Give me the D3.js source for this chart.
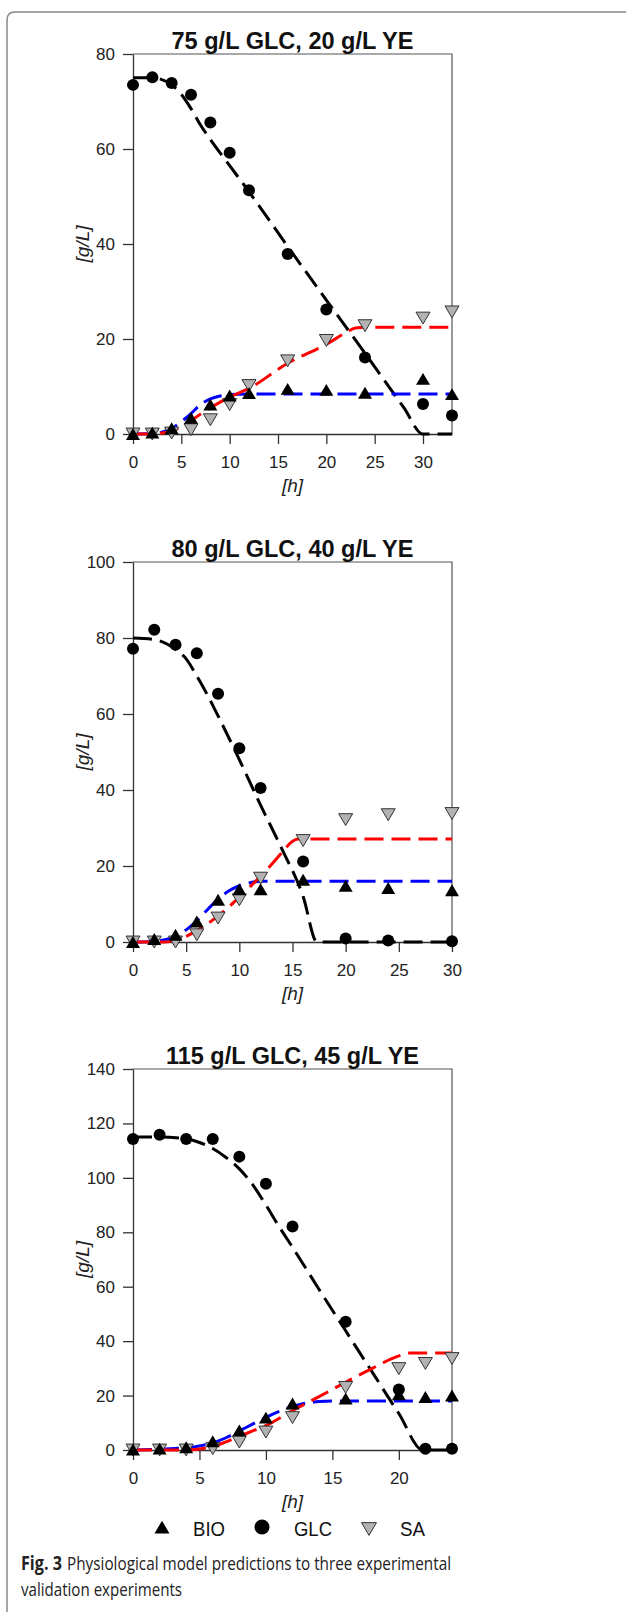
<!DOCTYPE html>
<meta charset="utf-8">
<style>
    body { margin: 0; background: #fff; }
    .axis path, .axis line { stroke: #333; stroke-width: 1.3px; }
    .axis text { font: 17px "Liberation Sans", Arial, sans-serif; fill: #222; }
    .frame { stroke: #555; stroke-width: 1.2px; fill: none; }
    .title { font: bold 24px "Liberation Sans", Arial, sans-serif; fill: #111; }
    .lab { font: italic 19px "Liberation Sans", Arial, sans-serif; fill: #222; }
    .legend text { font: 21px "Liberation Sans", Arial, sans-serif; fill: #111; }
    .caption { font: 19px "Open Sans", "Noto Sans", sans-serif; fill: #222; }
    .caption.bold { font-weight: bold; }
</style>
<svg width="626" height="1612"></svg>
<script src="https://d3js.org/d3.v7.min.js"></script>
<script>

// panel 1: 75 g/L GLC, 20 g/L YE
var times1 = [0, 2, 4, 6, 8, 10, 12, 16, 20, 24, 30, 33];
var glc1 = [73.5, 75.1, 73.9, 71.4, 65.6, 59.2, 51.3, 37.9, 26.2, 16.1, 6.3, 3.9];
var bio1 = [0, 0.3, 1.2, 3.4, 6.2, 8.1, 8.6, 9.5, 9.3, 8.7, 11.6, 8.4];
var sa1 = [0, 0, 0.2, 0.9, 3.0, 6.2, 10.2, 15.4, 19.7, 22.8, 24.4, 25.7];
var glcModel1 = [[0,75],[2,75],[4,73.5],[5,71.5],[6,68.5],[7,65],[8,62],[10,56.5],[12,51],[16,39.5],[20,28.2],[24,17],[28,5.6],[30,0],[33,0]];
var bioModel1 = [[0,0],[2,0.1],[3,0.4],[4,1.2],[5,2.6],[6,4.3],[7,6.2],[8,7.4],[9,8],[10,8.3],[12,8.4],[33,8.4]];
var saModel1 = [[0,0],[2,0],[3,0.2],[4,0.6],[5,1.5],[6,2.8],[7,4.2],[8,5.5],[10,7.8],[12,9.6],[16,14.9],[20,18.9],[22,21.3],[23,22.3],[24,22.5],[33,22.5]];

// panel 2: 80 g/L GLC, 40 g/L YE
var times2 = [0, 2, 4, 6, 8, 10, 12, 16, 20, 24, 30];
var glc2 = [77.2, 82.2, 78.2, 76.0, 65.3, 51.0, 40.5, 21.2, 0.9, 0.4, 0.2];
var bio2 = [0, 0.8, 1.9, 5.4, 11.1, 13.9, 13.9, 16.4, 14.8, 14.2, 13.6];
var sa2 = [0, 0, 0, 1.9, 6.3, 11.1, 16.8, 26.7, 32.2, 33.5, 33.8];
var glcModel2 = [[0,80],[2,79.6],[4,77],[5,74.5],[6,70],[7,65],[8,59.5],[10,48],[12,36],[14,24.5],[16,12],[17.3,0],[30,0]];
var bioModel2 = [[0,0],[2,0.2],[3,0.6],[4,1.5],[5,3.2],[6,5.6],[7,8.5],[8,11.3],[9,13.4],[10,14.8],[11,15.6],[12,16],[30,16]];
var saModel2 = [[0,0],[3,0],[4,0.5],[5,1.5],[6,3],[7,4.8],[8,6.8],[9,9.2],[10,11.8],[11,14.5],[12,17.3],[13,20.3],[14,23.5],[15,26.5],[15.5,27.1],[30,27.1]];

// panel 3: 115 g/L GLC, 45 g/L YE
var times3 = [0, 2, 4, 6, 8, 10, 12, 16, 20, 22, 24];
var glc3 = [114.3, 115.8, 114.3, 114.3, 107.8, 97.8, 82.1, 47.1, 22.2, 0.5, 0.5];
var bio3 = [0.2, 0.5, 1.0, 3.2, 7.2, 11.9, 17.1, 18.9, 20.5, 19.5, 20.0];
var sa3 = [0, 0, 0, 0.5, 2.9, 6.6, 11.9, 23.0, 29.9, 31.8, 33.6];
var glcModel3 = [[0,115],[2,115],[4,114.3],[5,113],[6,110.8],[7,107.5],[8,103.3],[9,97.5],[10,90],[11,82],[12,74.5],[14,59],[16,43.8],[18,28.6],[20,13.4],[21.8,0],[24,0]];
var bioModel3 = [[0,0],[4,0.8],[5,1.5],[6,2.6],[7,4.5],[8,7],[9,9.5],[10,12],[11,14.2],[12,16],[13,17.2],[14,17.8],[15,18],[24,18]];
var saModel3 = [[0,0],[4,0],[5,0.4],[6,1.3],[7,3],[8,5],[9,7],[10,9],[12,14.5],[14,19.6],[16,24.9],[18,30],[20,34.6],[20.8,35.6],[24,35.6]];

var titles = ["75 g/L GLC, 20 g/L YE", "80 g/L GLC, 40 g/L YE", "115 g/L GLC, 45 g/L YE"];
var xMax = [33, 30, 24];
var yMax = [80, 100, 140];
var xTicks = [[0,5,10,15,20,25,30], [0,5,10,15,20,25,30], [0,5,10,15,20]];
var legendNames = ["BIO", "GLC", "SA"];

var panels = [
    {times: times1, glc: glc1, bio: bio1, sa: sa1, mg: glcModel1, mb: bioModel1, ms: saModel1, top: 54, bottom: 434, tw: 242},
    {times: times2, glc: glc2, bio: bio2, sa: sa2, mg: glcModel2, mb: bioModel2, ms: saModel2, top: 562, bottom: 942, tw: 242},
    {times: times3, glc: glc3, bio: bio3, sa: sa3, mg: glcModel3, mb: bioModel3, ms: saModel3, top: 1069, bottom: 1450, tw: 253}
];

var svg = d3.select("svg");
var left = 133, right = 452;

// outer figure box
svg.append("path")
    .attr("d", "M7,1612 L7,20 Q7,12 15,12 L626,12")
    .attr("fill", "none").attr("stroke", "#888").attr("stroke-width", 1.5);

function upTri(x, y, s) {
    return "M" + (x - s) + "," + (y + s * 0.85) + "L" + (x + s) + "," + (y + s * 0.85) + "L" + x + "," + (y - s * 0.85) + "Z";
}
function downTri(x, y, s) {
    return "M" + (x - s) + "," + (y - s * 0.85) + "L" + (x + s) + "," + (y - s * 0.85) + "L" + x + "," + (y + s * 0.85) + "Z";
}

panels.forEach(function(p, i) {
    var x = d3.scaleLinear().domain([0, xMax[i]]).range([left, right]);
    var y = d3.scaleLinear().domain([0, yMax[i]]).range([p.bottom, p.top]);
    var g = svg.append("g");

    g.append("path").attr("class", "frame")
        .attr("d", "M" + left + "," + p.top + "H" + right + "V" + p.bottom);

    g.append("g").attr("class", "axis")
        .attr("transform", "translate(0," + p.bottom + ")")
        .call(d3.axisBottom(x).tickValues(xTicks[i]).tickSize(10).tickPadding(12).tickSizeOuter(0));

    g.append("g").attr("class", "axis")
        .attr("transform", "translate(" + left + ",0)")
        .call(d3.axisLeft(y).ticks(yMax[i] / 20).tickSize(10).tickPadding(8).tickSizeOuter(0));

    g.append("text").attr("class", "title")
        .attr("x", 292.5).attr("y", p.top - 5)
        .attr("text-anchor", "middle")
        .attr("textLength", p.tw).attr("lengthAdjust", "spacingAndGlyphs")
        .text(titles[i]);

    g.append("text").attr("class", "lab")
        .attr("x", 292.5).attr("y", p.bottom + 58)
        .attr("text-anchor", "middle").text("[h]");

    g.append("text").attr("class", "lab")
        .attr("transform", "translate(82," + (p.top + p.bottom) / 2 + ") rotate(-90)")
        .attr("text-anchor", "middle").attr("dy", "0.35em").text("[g/L]");

    var line = d3.line()
        .x(function(d) { return x(d[0]); })
        .y(function(d) { return y(d[1]); })
        .curve(d3.curveMonotoneX);

    [[p.mg, "#000"], [p.mb, "#0000ff"], [p.ms, "#ff0000"]].forEach(function(m) {
        g.append("path").datum(m[0])
            .attr("d", line)
            .attr("fill", "none")
            .attr("stroke", m[1])
            .attr("stroke-width", 3)
            .attr("stroke-dasharray", "19,8");
    });

    g.selectAll(".sa").data(p.times).enter().append("path")
        .attr("d", function(t, k) { return downTri(x(t), y(p.sa[k]), 7); })
        .attr("fill", "#b2b2b2").attr("stroke", "#333").attr("stroke-width", 1);

    g.selectAll(".bio").data(p.times).enter().append("path")
        .attr("d", function(t, k) { return upTri(x(t), y(p.bio[k]), 7); })
        .attr("fill", "#000");

    g.selectAll(".glc").data(p.times).enter().append("circle")
        .attr("cx", function(t) { return x(t); })
        .attr("cy", function(t, k) { return y(p.glc[k]); })
        .attr("r", 6)
        .attr("fill", "#000");
});

// legend
var lg = svg.append("g").attr("class", "legend");
lg.append("path").attr("d", upTri(162, 1527, 7.5)).attr("fill", "#000");
lg.append("circle").attr("cx", 262).attr("cy", 1527).attr("r", 7.5).attr("fill", "#000");
lg.append("path").attr("d", downTri(369, 1529, 7.5)).attr("fill", "#b2b2b2").attr("stroke", "#333");
var legendX = [193, 294, 400], legendW = [32, 38, 25];
legendNames.forEach(function(n, i) {
    lg.append("text").attr("x", legendX[i]).attr("y", 1536)
        .attr("textLength", legendW[i]).attr("lengthAdjust", "spacingAndGlyphs")
        .text(n);
});

// caption
svg.append("text").attr("class", "caption bold")
    .attr("x", 21).attr("y", 1570)
    .attr("textLength", 41).attr("lengthAdjust", "spacingAndGlyphs")
    .text("Fig. 3");
svg.append("text").attr("class", "caption")
    .attr("x", 67).attr("y", 1570)
    .attr("textLength", 384).attr("lengthAdjust", "spacingAndGlyphs")
    .text("Physiological model predictions to three experimental");
svg.append("text").attr("class", "caption")
    .attr("x", 21).attr("y", 1596)
    .attr("textLength", 161).attr("lengthAdjust", "spacingAndGlyphs")
    .text("validation experiments");

</script>
